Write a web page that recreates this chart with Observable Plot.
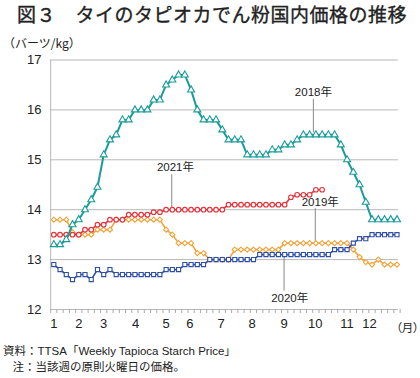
<!DOCTYPE html>
<html><head><meta charset="utf-8">
<script src="https://cdn.jsdelivr.net/npm/d3@7"></script>
<script src="https://cdn.jsdelivr.net/npm/@observablehq/plot@0.6"></script>
<style>
body{margin:0;background:#fff;}
#wrap{position:relative;width:420px;height:378px;overflow:hidden;font-family:"Noto Sans CJK JP",sans-serif;color:#222;background:#fff;}
#title{position:absolute;left:17px;top:0px;font-size:19px;font-weight:400;letter-spacing:0.5px;white-space:nowrap;line-height:28px;-webkit-text-stroke:0.35px #222;z-index:2;}
#unit{position:absolute;left:3px;top:34px;font-size:12px;line-height:17px;white-space:nowrap;z-index:2;}
#chart{position:absolute;left:0;top:30px;z-index:1;}
#month{position:absolute;left:396px;top:319px;font-size:11.5px;line-height:16px;font-feature-settings:"palt";white-space:nowrap;z-index:2;}
#foot{position:absolute;left:3px;top:343px;font-size:11.5px;line-height:16px;font-family:"Liberation Sans","Noto Sans CJK JP",sans-serif;white-space:nowrap;z-index:2;}
</style></head>
<body>
<div id="wrap">
  <div id="title">図３　タイのタピオカでん粉国内価格の推移</div>
  <div id="unit">（バーツ/kg）</div>
  <div id="chart"></div>
  <div id="month">（月）</div>
  <div id="foot">資料：TTSA「Weekly Tapioca Starch Price」<br>&nbsp;&nbsp;&nbsp;注：当該週の原則火曜日の価格。</div>
</div>
<script>
// ---- data (weekly, バーツ/kg) ----
const s2018 = [13.3,13.3,13.4,13.7,13.8,14.0,14.2,14.45,15.1,15.4,
  15.5,15.8,15.8,16.0,16.0,16.0,16.2,16.2,16.5,16.6,
  16.7,16.7,16.4,16.0,15.8,15.8,15.8,15.6,15.4,15.4,
  15.4,15.1,15.1,15.1,15.1,15.2,15.2,15.3,15.3,15.4,
  15.5,15.5,15.5,15.5,15.5,15.5,15.3,15.0,14.75,14.5,
  14.15,13.8,13.8,13.8,13.8,13.8];
const s2019 = [13.8,13.8,13.8,13.55,13.5,13.5,13.5,13.6,13.6,13.6,
  13.8,13.8,13.8,13.8,13.8,13.8,13.8,13.8,13.6,13.5,
  13.33,13.33,13.33,13.13,13.13,13.0,13.0,13.0,13.0,13.2,
  13.2,13.2,13.2,13.2,13.2,13.2,13.2,13.33,13.33,13.33,
  13.33,13.33,13.33,13.33,13.33,13.33,13.33,13.33,13.2,13.05,
  12.95,12.9,13.0,12.9,12.9,12.9];
const s2020 = [12.9,12.8,12.7,12.6,12.7,12.7,12.6,12.8,12.7,12.8,
  12.7,12.7,12.7,12.7,12.7,12.7,12.7,12.7,12.8,12.8,
  12.8,12.9,12.9,12.9,12.9,13.0,13.0,13.0,13.0,13.0,
  13.0,13.0,13.0,13.1,13.1,13.1,13.1,13.1,13.1,13.1,
  13.1,13.1,13.1,13.1,13.1,13.2,13.2,13.2,13.33,13.42,
  13.42,13.5,13.5,13.5,13.5,13.5];
const s2021 = [13.5,13.5,13.5,13.5,13.5,13.6,13.6,13.7,13.7,13.8,
  13.8,13.8,13.9,13.9,13.9,13.9,13.95,13.95,14.0,14.0,
  14.0,14.0,14.0,14.0,14.0,14.0,14.0,14.0,14.1,14.1,
  14.1,14.1,14.1,14.1,14.1,14.1,14.1,14.1,14.25,14.3,
  14.3,14.3,14.4,14.4];

const seriesNames = ["2019","2020","2021","2018"];
const seriesValues = [s2019, s2020, s2021, s2018];
const seriesColors = ["#f2a33a","#2f4fa6","#e5323b","#1a9c9b"];
const seriesSymbols = ["diamond2","square","circle","triangle"];

const monthLabels = ["1","2","3","4","5","6","7","8","9","10","11","12"];
const monthTickWeeks = [1,5,9,14.1,19,22.8,27.8,32.8,37.9,42.9,48,51.6];
const yTicks = [12,13,14,15,16,17];

// annotations (week, value)
const annoLabels = ["2018年","2019年","2020年","2021年"];
const annoTextWeek = [42.6,43.7,38.8,20.5];
const annoTextValue = [16.35,14.15,12.23,14.84];
const annoLineWeek = [42.6,42.9,37.9,19.9];
const annoLineFrom = [16.22,14.03,12.38,14.71];
const annoLineTo = [15.55,13.35,13.1,14.02];

// ---- build ----
const anno = annoLabels.map((t,i)=>({t, tx:annoTextWeek[i], ty:annoTextValue[i],
  lx:annoLineWeek[i], y1:annoLineFrom[i], y2:annoLineTo[i]}));

const seriesMarks = [];
seriesNames.forEach((name,k)=>{
  const rows = seriesValues[k].map((v,i)=>({week:i+1, value:v}));
  seriesMarks.push(Plot.line(rows, {x:"week", y:"value", stroke:seriesColors[k],
    strokeWidth: name==="2018" ? 2 : 1.6}));
  seriesMarks.push(Plot.dot(rows, {x:"week", y:"value", symbol:seriesSymbols[k],
    r: seriesSymbols[k]==="triangle" ? 2.6 : 2.3, stroke:seriesColors[k], fill:"white", strokeWidth:1.1}));
});

const weekBounds = d3.range(0.5, 57, 1);

const chart = Plot.plot({
  width: 420, height: 312,
  marginLeft: 50, marginRight: 22, marginTop: 29.5, marginBottom: 33,
  x: {domain:[1,56], range:[53.3,396.5]},
  y: {domain:[12,17]},
  style: {fontFamily:"'Liberation Sans', Arial, sans-serif", fontSize:"13px", color:"#222", background:"white"},
  marks: [
    Plot.ruleY(yTicks, {stroke:"#b8b8b8", strokeWidth:1}),
    Plot.ruleX([0.5], {stroke:"#b8b8b8", strokeWidth:1}),
    Plot.axisX({ticks:weekBounds, tickSize:4, tickFormat:()=>"", stroke:"#aaa"}),
    Plot.axisX({ticks:monthTickWeeks, tickSize:0, tickPadding:9,
      tickFormat:d=>monthLabels[monthTickWeeks.indexOf(d)]}),
    Plot.axisY({ticks:yTicks, tickSize:0, tickPadding:9, tickFormat:d=>String(d)}),
    Plot.link(anno, {x1:"lx", x2:"lx", y1:"y1", y2:"y2", stroke:"#888", strokeWidth:1}),
    Plot.text(anno, {x:"tx", y:"ty", text:"t", fontSize:11.5, fill:"#222",
      fontFamily:"'Liberation Sans','Noto Sans CJK JP',sans-serif"}),
    ...seriesMarks
  ]
});
document.getElementById("chart").appendChild(chart);
</script>
</body></html>
